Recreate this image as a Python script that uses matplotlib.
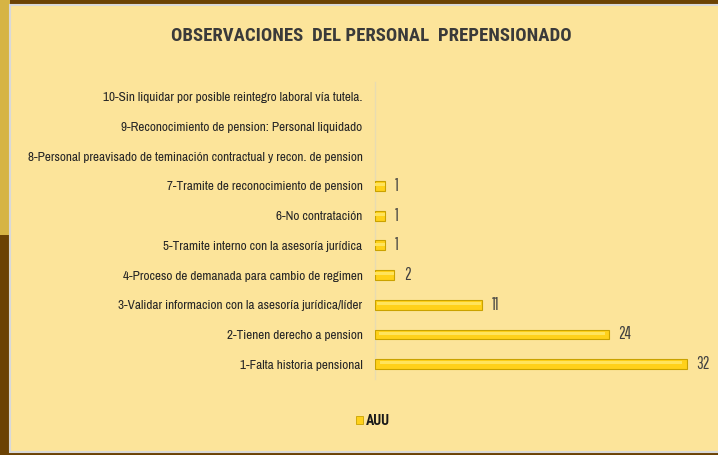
import matplotlib

matplotlib.use('Agg')
import matplotlib.pyplot as plt
import matplotlib.patches as mpc
import numpy as np

categories = ["1-Falta historia pensional",
              "2-Tienen derecho a pension",
              "3-Validar informacion con la asesoría jurídica/líder",
              "4-Proceso de demanada para cambio de regimen",
              "5-Tramite interno con la asesoría jurídica",
              "6-No contratación",
              "7-Tramite de reconocimiento de pension",
              "8-Personal preavisado de teminación contractual y recon. de pension",
              "9-Reconocimiento de pension: Personal liquidado",
              "10-Sin liquidar por posible reintegro laboral vía tutela."]
values = [32, 24, 11, 2, 1, 1, 1, 0, 0, 0]
series_name = "AUU"
title = "OBSERVACIONES  DEL PERSONAL  PREPENSIONADO"

W, H = 718, 455
narrow = ['Archivo Narrow', 'PT Sans Narrow', 'DejaVu Sans']
thin = ['Pathway Gothic One', 'Archivo Narrow', 'DejaVu Sans']
bold_c = ['Roboto Condensed', 'Archivo Narrow', 'DejaVu Sans']

fig = plt.figure(figsize=(W / 100, H / 100), dpi=100)
fig.patch.set_facecolor('#6B4204')

# gold strip top-left
fig.patches.append(mpc.Rectangle((0, 1 - 235 / H), 10 / W, 235 / H, transform=fig.transFigure,
                                 facecolor='#D6B444', edgecolor='none', zorder=-3))
# light panel
fig.patches.append(mpc.Rectangle((10 / W, 3 / H), 1 - 10 / W + 0.01, 1 - 8 / H, transform=fig.transFigure,
                                 facecolor='#FCE49A', edgecolor='#D8D8D8', linewidth=1.5, zorder=-2))

ax = fig.add_axes([375 / W, 76 / H, 335 / W, 297 / H])
ax.set_facecolor('none')

y = np.arange(len(categories))
edges = ['#C9A200' if v > 0 else 'none' for v in values]
ax.barh(y, values, height=0.33, color='#FFD11A', edgecolor=edges, linewidth=0.8, zorder=3)
# highlight stripe for the bevelled look
ax.barh(y + 0.04, [v * 0.97 for v in values], height=0.1, left=[v * 0.015 for v in values],
        color='#FFE45C', edgecolor='none', zorder=4)

for yi, v in zip(y, values):
    if v > 0:
        ax.text(v + 1.0, yi, str(v), va='center', ha='left', fontsize=12,
                family=thin, color='#404040')

ax.set_xlim(0, 34.4)
ax.set_ylim(-0.5, len(categories) - 0.5)
ax.set_yticks(y)
ax.set_yticklabels(categories, family=narrow, fontsize=9.5, color='#262626')
ax.tick_params(axis='y', length=0, pad=9)
ax.set_xticks([])
for s in ['top', 'right', 'bottom']:
    ax.spines[s].set_visible(False)
ax.spines['left'].set_color('#E8DCB0')
ax.spines['left'].set_linewidth(1)

fig.text(371 / W, 1 - 36 / H, title, ha='center', va='center', fontsize=13.5,
         fontweight='bold', family=bold_c, color='#3a3a3a')

handle = mpc.Patch(facecolor='#FFD11A', edgecolor='#C9A200', linewidth=0.6)
leg = fig.legend([handle], [series_name], loc='center', bbox_to_anchor=(373 / W, 1 - 421 / H),
                 frameon=False, handlelength=0.5, handleheight=0.5, handletextpad=0.2,
                 prop={'family': bold_c, 'weight': 'bold', 'size': 10})
for t in leg.get_texts():
    t.set_color('#1a1a1a')

plt.savefig('out.png', dpi=100, facecolor=fig.get_facecolor())
